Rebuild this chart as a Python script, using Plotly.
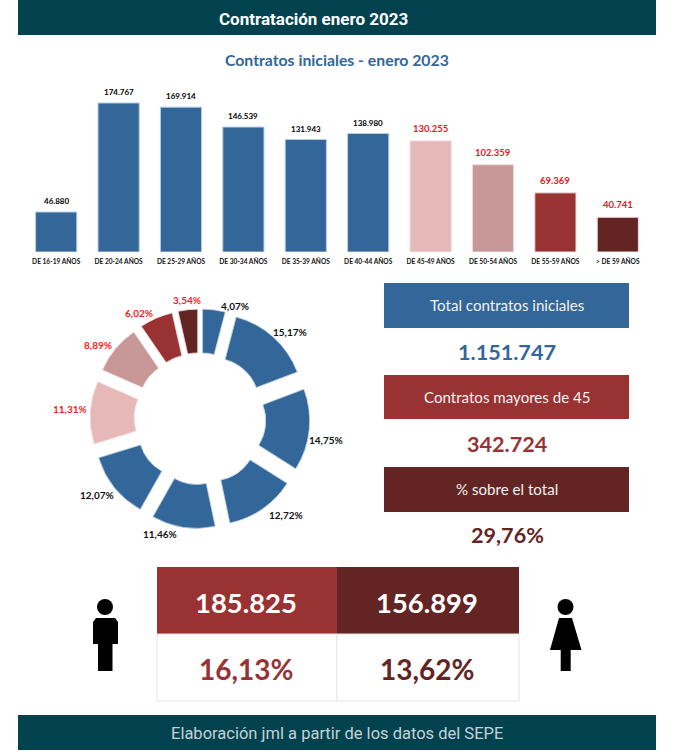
import plotly.graph_objects as go

W, H = 677, 754
FONT = "Lato"

categories = ["DE 16-19 AÑOS", "DE 20-24 AÑOS", "DE 25-29 AÑOS", "DE 30-34 AÑOS", "DE 35-39 AÑOS",
              "DE 40-44 AÑOS", "DE 45-49 AÑOS", "DE 50-54 AÑOS", "DE 55-59 AÑOS", "> DE 59 AÑOS"]
contracts = [46880, 174767, 169914, 146539, 131943, 138980, 130255, 102359, 69369, 40741]
bar_labels = ["46.880", "174.767", "169.914", "146.539", "131.943", "138.980", "130.255", "102.359", "69.369", "40.741"]
pct_labels = ["4,07%", "15,17%", "14,75%", "12,72%", "11,46%", "12,07%", "11,31%", "8,89%", "6,02%", "3,54%"]

BLUE, RED, DARK, PINK, ROSE, TEAL = "#336699", "#993333", "#632523", "#E6B8B7", "#C89898", "#02424F"
colors = [BLUE] * 6 + [PINK, ROSE, RED, DARK]
edge = ["#B8CCE4"] * 6 + ["#F2DCDB"] * 4
label_colors = ["#000000"] * 6 + ["#E8141C"] * 4
label_sizes = [8] * 6 + [9.5] * 4
label_shifts = [4] * 6 + [5] * 4
pie_label_colors = ["#111111"] * 6 + ["#FF1A1A"] * 4
pie_label_xy = [(235, 306), (290, 332), (326, 440), (286, 515), (160, 534),
                (97, 495), (70, 409), (98, 345), (139, 313), (187, 300)]


def px(x):
    return x / W


def py(y):
    return 1 - y / H


fig = go.Figure()
fig.add_trace(go.Bar(
    x=categories, y=contracts,
    marker=dict(color=colors, line=dict(color=edge, width=1)), hoverinfo="skip", showlegend=False,
))
fig.add_trace(go.Pie(
    values=contracts, textinfo="none", sort=False,
    direction="clockwise", rotation=0, hole=0.51, pull=0.227,
    domain=dict(x=[px(90), px(310)], y=[py(528.5), py(309)]),
    marker=dict(colors=colors, line=dict(color=edge, width=0.8)),
    hoverinfo="skip", showlegend=False,
))

shapes = []


def rect(x0, y0, x1, y1, fill, line=None):
    shapes.append(dict(type="rect", xref="paper", yref="paper", x0=px(x0), x1=px(x1), y0=py(y0), y1=py(y1),
                       fillcolor=fill, line=dict(color=line or fill, width=1 if line else 0), layer="below"))


def poly(points):
    d = "M" + " L".join(f"{px(a):.5f},{py(b):.5f}" for a, b in points) + " Z"
    shapes.append(dict(type="path", xref="paper", yref="paper", path=d, fillcolor="#000000",
                       line=dict(width=0), layer="below"))


def head(cx, cy, r):
    shapes.append(dict(type="circle", xref="paper", yref="paper", x0=px(cx - r), x1=px(cx + r),
                       y0=py(cy + r), y1=py(cy - r), fillcolor="#000000", line=dict(width=0), layer="below"))


rect(18, 0, 656, 35, TEAL)
rect(18, 715, 656, 750, TEAL)
rect(384, 283, 629, 328, BLUE)
rect(384, 375, 629, 419, RED)
rect(384, 467, 629, 512, DARK)
rect(157, 567, 337, 634, RED)
rect(337, 567, 519, 634, DARK)
rect(157, 634, 337, 701, "#FFFFFF", "#E4E4E4")
rect(337, 634, 519, 701, "#FFFFFF", "#E4E4E4")

# man
head(105, 607, 8)
poly([(96, 618), (115, 618), (118, 622), (118, 644), (112.5, 644), (112.5, 671), (98, 671), (98, 644), (93, 644), (93, 622)])
# woman
head(565.5, 607, 8)
poly([(559, 618), (572, 618), (581.5, 650), (570.7, 650), (570.7, 671), (560.7, 671), (560.7, 650), (550, 650)])

annotations = []


def label(x, y, s, size, color, bold=True, family=FONT):
    annotations.append(dict(xref="paper", yref="paper", x=px(x), y=py(y), text=s, showarrow=False,
                            xanchor="center", yanchor="middle",
                            font=dict(family=family, size=size, color=color, weight="bold" if bold else "normal")))


for cat, val, txt, col, size, shift in zip(categories, contracts, bar_labels, label_colors, label_sizes, label_shifts):
    annotations.append(dict(xref="x", yref="y", x=cat, y=val, text=txt, showarrow=False, xanchor="center",
                            yanchor="bottom", yshift=shift,
                            font=dict(family=FONT, size=size, color=col, weight="bold")))

for (lx, ly), txt, col in zip(pie_label_xy, pct_labels, pie_label_colors):
    label(lx, ly, txt, 10, col)

label(313, 19, "Contratación enero 2023", 17, "#FFFFFF", family="Roboto")
label(337, 59, "Contratos iniciales - enero 2023", 15.8, BLUE)
label(507, 305, "Total contratos iniciales", 15.1, "#F2F2F2", False)
label(507, 352, "1.151.747", 21.6, BLUE)
label(507, 397, "Contratos mayores de 45", 15.1, "#F2F2F2", False)
label(507, 444, "342.724", 21.6, RED)
label(507, 489, "% sobre el total", 15.1, "#F2F2F2", False)
label(507, 535, "29,76%", 21.6, DARK)
label(246, 602, "185.825", 27.4, "#FFFFFF")
label(427, 602, "156.899", 27.4, "#FFFFFF")
label(246, 669, "16,13%", 28, RED)
label(427, 669, "13,62%", 28, DARK)
label(337, 733, "Elaboración jml a partir de los datos del SEPE", 16.5, "#C4D2D5", False, "Roboto")

fig.update_layout(
    width=W, height=H, autosize=False, margin=dict(l=0, r=0, t=0, b=0),
    paper_bgcolor="#FFFFFF", plot_bgcolor="#FFFFFF", bargap=0.34,
    shapes=shapes, annotations=annotations, font=dict(family=FONT),
    xaxis=dict(domain=[px(25), px(649)], anchor="y", showgrid=False, zeroline=False, showline=False,
               ticks="outside", ticklen=3, tickcolor="rgba(0,0,0,0)", tickangle=0,
               tickfont=dict(family=FONT, size=6.6, color="#111111", weight="bold"),
               fixedrange=True),
    yaxis=dict(domain=[py(252), py(90)], range=[0, 190000], visible=False, fixedrange=True),
)
fig.write_html("out.html", config=dict(displayModeBar=False), post_script="document.body.style.margin='0';document.documentElement.style.overflow='hidden';")
